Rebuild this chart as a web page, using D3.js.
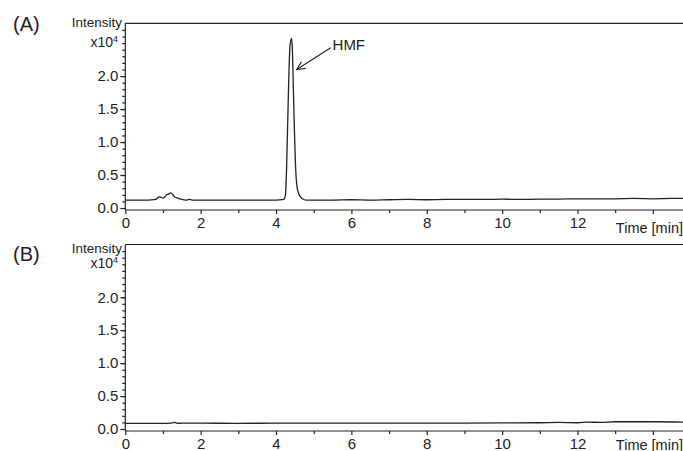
<!DOCTYPE html>
<html>
<head>
<meta charset="utf-8">
<script src="https://cdn.jsdelivr.net/npm/d3@7"></script>
<style>
  body { margin: 0; background: #fff; }
  svg { display: block; font-family: "Liberation Sans", Arial, sans-serif; }
</style>
</head>
<body>
<div id="chart"></div>
<script>
// time axis (min) and intensity (x10^4)
const timeTicks = [0, 2, 4, 6, 8, 10, 12, 14];
const timeLabels = ["0", "2", "4", "6", "8", "10", "12", ""];
const intensityTicks = [0, 0.5, 1.0, 1.5, 2.0];

const timesA = [0, 0.3, 0.6, 0.8, 0.85, 0.9, 0.95, 1.0, 1.05, 1.1, 1.15, 1.2, 1.25, 1.3, 1.4, 1.5, 1.6, 1.7, 1.8,
  2.0, 2.4, 2.8, 3.2, 3.6, 4.0, 4.2, 4.25, 4.28, 4.31, 4.34, 4.37, 4.41, 4.43, 4.45, 4.48, 4.51, 4.55, 4.6, 4.65,
  4.7, 4.8, 4.9, 5.0, 5.5, 6, 6.5, 7, 7.5, 8, 8.5, 9, 9.5, 10, 10.5, 11, 11.5, 12, 12.5, 13, 13.5, 14, 14.5, 14.8];
const valuesA = [0.12, 0.12, 0.12, 0.13, 0.15, 0.17, 0.16, 0.15, 0.17, 0.2, 0.21, 0.23, 0.21, 0.17, 0.15, 0.13, 0.12, 0.13, 0.12,
  0.12, 0.12, 0.12, 0.12, 0.12, 0.12, 0.13, 0.2, 0.6, 1.3, 2.0, 2.45, 2.57, 2.45, 2.05, 1.35, 0.75, 0.35, 0.22, 0.17,
  0.14, 0.12, 0.12, 0.12, 0.12, 0.125, 0.12, 0.125, 0.13, 0.125, 0.13, 0.13, 0.13, 0.135, 0.13, 0.135, 0.135, 0.14, 0.14, 0.14, 0.145, 0.14, 0.145, 0.145];

const timesB = [0, 0.5, 1.0, 1.2, 1.3, 1.4, 1.5, 2, 3, 4, 5, 6, 7, 8, 9, 10, 11, 11.5, 12, 12.3, 12.6, 13, 13.5, 14, 14.8];
const valuesB = [0.085, 0.085, 0.085, 0.09, 0.1, 0.085, 0.09, 0.09, 0.085, 0.09, 0.09, 0.088, 0.088, 0.09, 0.09, 0.092,
  0.095, 0.1, 0.095, 0.105, 0.1, 0.11, 0.11, 0.11, 0.105];

const width = 683, height = 451;
const left = 125.3, right = 683;
const ink = "#222";

const svg = d3.select("#chart").append("svg")
  .attr("width", width)
  .attr("height", height);

const x = d3.scaleLinear().domain([0, 14.8]).range([left, right]);

const panels = [
  { label: "(A)", times: timesA, values: valuesA, top: 23.3, bottom: 210, labelDy: 8, intDy: 3.4, hmf: true },
  { label: "(B)", times: timesB, values: valuesB, top: 244.5, bottom: 431, labelDy: 16.5, intDy: 8, hmf: false }
];

panels.forEach(p => {
  const g = svg.append("g");
  const y = d3.scaleLinear().domain([-0.03, 2.8]).range([p.bottom, p.top]);

  // frame: top line
  g.append("line")
    .attr("x1", left).attr("x2", right)
    .attr("y1", p.top).attr("y2", p.top)
    .attr("stroke", ink).attr("stroke-width", 1.2);

  // minor y ticks
  g.append("g")
    .attr("transform", `translate(${left},0)`)
    .call(d3.axisLeft(y).tickValues(d3.range(1, 28).map(d => d / 10)).tickSize(3).tickFormat(""))
    .call(a => a.select(".domain").remove());

  // major y ticks
  const ya = g.append("g")
    .attr("transform", `translate(${left},0)`)
    .call(d3.axisLeft(y).tickValues(intensityTicks).tickSize(5).tickPadding(2).tickFormat(d3.format(".1f")));
  ya.select(".domain").attr("d", `M0,${p.top}V${p.bottom}`);
  ya.selectAll("text").style("font-size", "15px").attr("fill", ink);

  // x ticks
  g.append("g")
    .attr("transform", `translate(0,${p.bottom})`)
    .call(d3.axisBottom(x).tickValues(d3.range(1, 15, 2)).tickSize(3).tickFormat(""))
    .call(a => a.select(".domain").remove());
  const xa = g.append("g")
    .attr("transform", `translate(0,${p.bottom})`)
    .call(d3.axisBottom(x).tickValues(timeTicks).tickSize(4).tickPadding(3)
      .tickFormat((d, i) => timeLabels[i]));
  xa.select(".domain").attr("d", `M${left},0H${right}`);
  xa.selectAll("text").style("font-size", "15px").attr("fill", ink);

  svg.selectAll(".domain, .tick line").attr("stroke", ink).attr("stroke-width", 1.2);

  // texts
  g.append("text").attr("x", 13).attr("y", p.top + p.labelDy)
    .style("font-size", "20px").attr("fill", ink).text(p.label);
  g.append("text").attr("x", 122).attr("y", p.top + p.intDy)
    .attr("text-anchor", "end").style("font-size", "13.5px").attr("fill", ink).text("Intensity");
  const xt = g.append("text").attr("x", 118).attr("y", p.top + 23.5)
    .attr("text-anchor", "end").style("font-size", "14px").attr("fill", ink);
  xt.append("tspan").text("x10");
  xt.append("tspan").attr("dy", -5).style("font-size", "9px").text("4");
  g.append("text").attr("x", 683).attr("y", Math.min(p.bottom + 23, height - 1))
    .attr("text-anchor", "end").style("font-size", "14.5px").attr("fill", ink).text("Time [min]");

  // trace
  const pts = p.times.map((t, i) => [t, p.values[i]]);
  g.append("path")
    .datum(pts)
    .attr("fill", "none")
    .attr("stroke", ink)
    .attr("stroke-width", 1.3)
    .attr("d", d3.line().x(d => x(d[0])).y(d => y(d[1])).curve(d3.curveMonotoneX));

  if (p.hmf) {
    const x0 = x(5.45), y0 = y(2.43), x1 = x(4.55), y1 = y(2.1);
    g.append("text").attr("x", x(5.5)).attr("y", y(2.4))
      .style("font-size", "15px").attr("fill", ink).text("HMF");
    g.append("line").attr("x1", x0).attr("y1", y0).attr("x2", x1).attr("y2", y1)
      .attr("stroke", ink).attr("stroke-width", 1.2);
    const ang = Math.atan2(y0 - y1, x0 - x1);
    const head = [ang - 0.45, ang + 0.45].map(a => [x1 + 9 * Math.cos(a), y1 + 9 * Math.sin(a)]);
    g.append("path")
      .attr("d", `M${head[0][0]},${head[0][1]}L${x1},${y1}L${head[1][0]},${head[1][1]}`)
      .attr("fill", "none").attr("stroke", ink).attr("stroke-width", 1.2);
  }
});
</script>
</body>
</html>
